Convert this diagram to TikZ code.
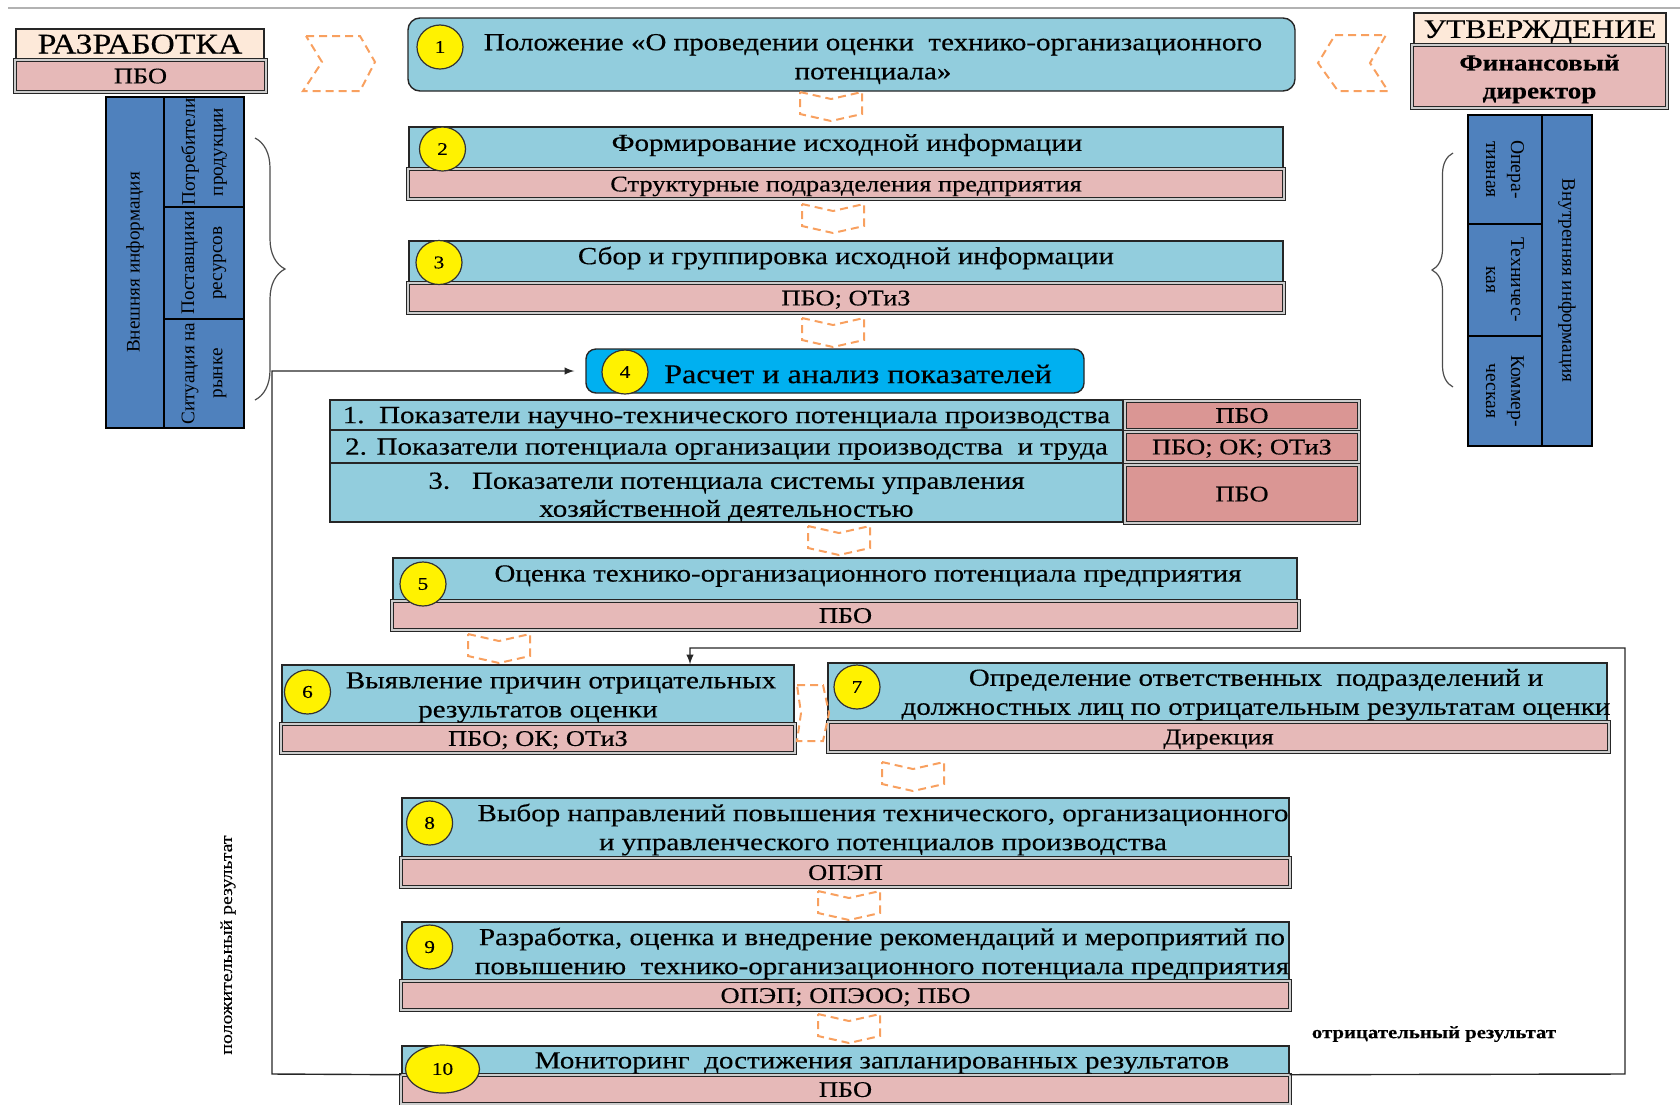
\documentclass[tikz,border=0pt]{standalone}
\usepackage{fontspec}
\setmainfont[FakeStretch=1.18,FakeBold=0.3]{Liberation Serif}
\newfontfamily\plainserif{Liberation Serif}
\usepackage{tikz}
\usetikzlibrary{arrows}
\usetikzlibrary{shapes.geometric}
\usetikzlibrary{decorations.pathreplacing}
\definecolor{cellblue}{RGB}{146,205,221}
\definecolor{cellpink}{RGB}{230,185,184}
\definecolor{darkpink}{RGB}{218,150,148}
\definecolor{peach}{RGB}{253,233,217}
\definecolor{steel}{RGB}{79,129,189}
\definecolor{skyblue}{RGB}{0,176,240}
\definecolor{chevorange}{RGB}{248,160,95}

\begin{document}
\begin{tikzpicture}[x=0.5pt,y=-0.5pt,>=latex,
  blubox/.style={draw=black!85,fill=cellblue,line width=0.7pt,inner sep=0pt},
  pinkbox/.style={draw=black!85,double=white!80!black,double distance=0.9pt,line width=0.5pt,
    fill=cellpink,inner sep=0pt,text height=7.4pt,text depth=0pt,font=\fontsize{11.2}{13}\selectfont},
  numcirc/.style={ellipse,draw=black!80,fill=yellow,line width=0.6pt,minimum width=23pt,
    minimum height=22pt,inner sep=0pt,font=\fontsize{9}{10}\selectfont},
  txt/.style={align=center,inner sep=0pt,yshift=-1.5pt,font=\fontsize{12.3}{14.5}\selectfont},
  rowtxt/.style={text height=8.1pt,text depth=0pt,font=\fontsize{12.3}{14}\selectfont},
  chev/.style={draw=chevorange,dash pattern=on 4pt off 2.5pt,line width=1pt},
  sidebox/.style={draw=black,fill=steel,line width=0.6pt,inner sep=0pt,align=center,
    font=\plainserif\fontsize{9.6}{14}\selectfont},
  loopline/.style={draw=black!85,line width=0.7pt}]

  \useasboundingbox (0,0) rectangle (1680,1104);
  \draw[line width=1.1pt,black!30] (8,8) -- (1680,8);

  % headers
  \node[draw=black!85,fill=peach,line width=0.6pt,minimum width=124pt,minimum height=15pt,inner sep=0pt,
    text height=9.5pt,text depth=0pt,font=\fontsize{14.3}{15}\selectfont] (D) at (140,44) {РАЗРАБОТКА};
  \node[pinkbox,minimum width=125.5pt,minimum height=16pt] (DP) at (140.5,76) {ПБО};
  \node[draw=black!85,fill=peach,line width=0.6pt,minimum width=126pt,minimum height=16pt,inner sep=0pt,
    text height=8.9pt,text depth=0pt,font=\fontsize{13.4}{14}\selectfont] (U) at (1540,29) {УТВЕРЖДЕНИЕ};
  \node[pinkbox,minimum width=127.5pt,minimum height=31.5pt] (UF) at (1539.5,76.5) {};
  \node[align=center,inner sep=0pt,font=\bfseries\fontsize{11.5}{14}\selectfont] (uf) at (1539.5,79) {Финансовый\\директор};

  % external / internal information
  \node[sidebox,rotate=90,minimum width=165.5pt,minimum height=29pt] (L0) at (135,262.5) {Внешняя информация};
  \node[sidebox,rotate=90,minimum width=55pt,minimum height=40pt] (L1) at (204,152) {Потребители\\продукции};
  \node[sidebox,rotate=90,minimum width=56pt,minimum height=40pt] (L2) at (204,263) {Поставщики\\ресурсов};
  \node[sidebox,rotate=90,minimum width=54.5pt,minimum height=40pt] (L3) at (204,373.5) {Ситуация на\\рынке};
  \node[sidebox,rotate=-90,minimum width=165.5pt,minimum height=25pt] (R0) at (1567,280.5) {Внутренняя информация};
  \node[sidebox,rotate=-90,minimum width=54.5pt,minimum height=37pt,font=\plainserif\fontsize{9.8}{12.5}\selectfont] (R1) at (1505,169.5) {Опера-\\тивная};
  \node[sidebox,rotate=-90,minimum width=56pt,minimum height=37pt,font=\plainserif\fontsize{9.8}{12.5}\selectfont] (R2) at (1505,280) {Техничес-\\кая};
  \node[sidebox,rotate=-90,minimum width=55pt,minimum height=37pt,font=\plainserif\fontsize{9.8}{12.5}\selectfont] (R3) at (1505,391) {Коммер-\\ческая};

  \draw[decorate,decoration={brace,amplitude=15pt},black!70,line width=0.6pt] (255,138) -- (255,400);
  \draw[decorate,decoration={brace,amplitude=10.5pt,mirror},black!70,line width=0.6pt] (1453,153) -- (1453,387);

  % step 1
  \node[blubox,rounded corners=6pt,minimum width=443.5pt,minimum height=36.5pt] (B1) at (851.5,54.5) {};
  \node[numcirc] (N1) at (440,47) {1};
  \node[txt] (t1) at (873,56) {Положение «О проведении оценки\ \ технико-организационного\\потенциала»};

  % step 2
  \node[blubox,minimum width=437pt,minimum height=20.5pt] (B2) at (846,147.5) {};
  \node[pinkbox,minimum width=438pt,minimum height=15pt] (P2) at (846,184) {Структурные подразделения предприятия};
  \node[numcirc] (N2) at (442.5,149) {2};
  \node[txt] (t2) at (847,142) {Формирование исходной информации};

  % step 3
  \node[blubox,minimum width=437pt,minimum height=20.5pt] (B3) at (846,261.5) {};
  \node[pinkbox,minimum width=438pt,minimum height=15pt] (P3) at (846,298) {ПБО; ОТиЗ};
  \node[numcirc] (N3) at (439,262.5) {3};
  \node[txt] (t3) at (846,255) {Сбор и группировка исходной информации};

  % step 4
  \node[blubox,fill=skyblue,rounded corners=5pt,minimum width=249pt,minimum height=22pt] (B4) at (835,371) {};
  \node[numcirc] (N4) at (625,372) {4};
  \node[txt,yshift=1pt,font=\fontsize{13.6}{15}\selectfont] (t4) at (858,373) {Расчет и анализ показателей};

  \node[blubox,rowtxt,minimum width=396.5pt,minimum height=15pt] (T1) at (726.5,415)
    {1.\ \ Показатели научно-технического потенциала производства};
  \node[blubox,rowtxt,minimum width=396.5pt,minimum height=16.5pt] (T2) at (726.5,446.5)
    {2. Показатели потенциала организации производства\ \ и труда};
  \node[blubox,minimum width=396.5pt,minimum height=29.5pt] (T3) at (726.5,492.5) {};
  \node[align=center,inner sep=0pt,font=\fontsize{12.3}{14}\selectfont] (t3b) at (726.5,497)
    {3.\ \ \ Показатели потенциала системы управления\\хозяйственной деятельностью};
  \node[pinkbox,fill=darkpink,minimum width=117pt,minimum height=14.5pt] (Q1) at (1242,415.5) {ПБО};
  \node[pinkbox,fill=darkpink,minimum width=117pt,minimum height=15pt] (Q2) at (1242,447) {ПБО; ОК; ОТиЗ};
  \node[pinkbox,fill=darkpink,minimum width=117pt,minimum height=29pt] (Q3) at (1242,494) {ПБО};

  % step 5
  \node[blubox,minimum width=452pt,minimum height=21pt] (B5) at (845,579) {};
  \node[pinkbox,minimum width=453.5pt,minimum height=14.5pt] (P5) at (845.5,615.5) {ПБО};
  \node[numcirc] (N5) at (423,584) {5};
  \node[txt] (t5) at (868,573) {Оценка технико-организационного потенциала предприятия};

  % steps 6 and 7
  \node[blubox,minimum width=256pt,minimum height=29pt] (B6) at (538,694) {};
  \node[pinkbox,minimum width=257pt,minimum height=14.5pt] (P6) at (538,738.5) {ПБО; ОК; ОТиЗ};
  \node[numcirc] (N6) at (307.5,692) {6};
  \node[txt] (t6) at (538,694.5) {\hspace*{23pt}Выявление причин отрицательных\\результатов оценки};

  \node[blubox,minimum width=389.5pt,minimum height=29pt] (B7) at (1217.5,692) {};
  \node[pinkbox,minimum width=390.5pt,minimum height=15pt] (P7) at (1218.5,737) {Дирекция};
  \node[numcirc] (N7) at (857,687) {7};
  \node[txt] (t7) at (1256,691.5) {Определение ответственных\ \ подразделений и\\должностных лиц по отрицательным результатам оценки};

  % step 8
  \node[blubox,minimum width=443.5pt,minimum height=29.5pt] (B8) at (845.5,827.5) {};
  \node[pinkbox,minimum width=444.5pt,minimum height=14.5pt] (P8) at (845.5,872.5) {ОПЭП};
  \node[numcirc] (N8) at (429.6,823) {8};
  \node[txt] (t8) at (883,826.5) {Выбор направлений повышения технического, организационного\\и управленческого потенциалов производства};

  % step 9
  \node[blubox,minimum width=443.5pt,minimum height=29pt] (B9) at (845.5,951) {};
  \node[pinkbox,minimum width=444.5pt,minimum height=14.5pt] (P9) at (845.5,995.5) {ОПЭП; ОПЭОО; ПБО};
  \node[numcirc] (N9) at (429.6,947) {9};
  \node[txt] (t9) at (882,950.5) {Разработка, оценка и внедрение рекомендаций и мероприятий по\\повышению\ \ технико-организационного потенциала предприятия};

  % step 10
  \node[blubox,minimum width=443.5pt,minimum height=14pt] (B10) at (845.5,1060) {};
  \node[pinkbox,minimum width=444.5pt,minimum height=14.5pt] (P10) at (845.5,1089.5) {ПБО};
  \node[numcirc,minimum width=37pt,minimum height=24pt] (N10) at (442.5,1069) {10};
  \node[txt] (t10) at (882,1060) {Мониторинг\ \ достижения запланированных результатов};

  % dashed chevrons
  \foreach \cx/\cy in {831/92,833/204,833/318,839/526,499/634,913/762,849/891,849/1014}
    \draw[chev] (\cx-31,\cy) -- (\cx,\cy+7) -- (\cx+31,\cy) -- (\cx+31,\cy+22) -- (\cx,\cy+29) -- (\cx-31,\cy+22) -- cycle;
  \draw[chev] (306,36) -- (360,36) -- (375,62) -- (360,91) -- (303,91) -- (322,62) -- cycle;
  \draw[chev] (1335,35) -- (1386,35) -- (1370,63) -- (1388,91) -- (1338,91) -- (1318,63) -- cycle;
  \draw[chev] (797,685) -- (823,685) -- (829,713) -- (823,741) -- (797,741) -- (801,713) -- cycle;

  % result loops
  \coordinate (PL) at (272,1074);
  \coordinate (NR) at (1625,1074);
  \coordinate (NT) at (1625,648);
  \coordinate (NA) at (690,648);
  \draw[loopline,->] (B10.south west) -- (PL) |- ([xshift=-5.5pt]B4.west);
  \draw[loopline,->] (B10.south east) -- (NR) -- (NT) -- (NA) -- (NA |- B6.north);
  %\draw[loopline] (PL) -- (NR);

  \node[rotate=90,inner sep=0pt,font=\fontsize{8.4}{10}\selectfont] (PR) at (228,945) {положительный результат};
  \node[inner sep=0pt,font=\bfseries\fontsize{8.8}{10}\selectfont] (NRL) at (1434,1034) {отрицательный результат};

\end{tikzpicture}
\end{document}
